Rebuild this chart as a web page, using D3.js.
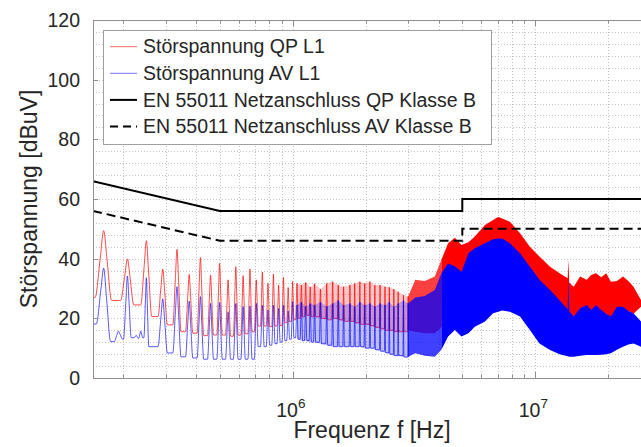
<!DOCTYPE html>
<html>
<head>
<meta charset="utf-8">
<script src="https://cdn.jsdelivr.net/npm/d3@7"></script>
<style>
  body { margin: 0; background: #fff; }
  text { font-family: "Liberation Sans", Arial, Helvetica, sans-serif; fill: #262626; }
</style>
</head>
<body>
<script>
//------------------------------------------- Data ------------------------------------------------------------------//
// limit lines EN 55011 class B (Hz / dBuV)
var limF = [1.5e5, 5e5, 5e6, 5e6, 3e7];
var qpLimit = [66, 56, 56, 60, 60];
var avLimit = [56, 46, 46, 50, 50];

// start level at 150 kHz
var qpStart = 27.0, avStart = 18.1;

// QP L1 : harmonic peaks below 3 MHz (kHz), peak level, level after the peak
var qpPeakF = [166, 208, 249, 291, 333, 374, 416, 458, 499, 541, 582, 624, 666, 707, 749, 790, 832, 874, 915, 957, 998,
  1040, 1085, 1130, 1180, 1230, 1300, 1380, 1460, 1540, 1620, 1720, 1800, 1890, 1980, 2080, 2180, 2290, 2400, 2500, 2610, 2720, 2860, 2990];
var qpPeak = [49.4, 39.9, 46.0, 36.5, 43.1, 34.7, 40.4, 34.5, 38.4, 32.9, 37.3, 34.3, 36.5, 32.9, 35.5, 31.7, 34.8, 31.2, 33.7, 30.3, 32.3,
  31.7, 31.2, 32.0, 30.5, 31.6, 29.8, 31.7, 32.3, 31.2, 30.6, 31.2, 31.7, 32.3, 31.7, 32.3, 31.2, 31.2, 30.6, 30.4, 29.8, 28.9, 27.8, 27.3];
var qpValley = [26.0, 24.5, 20.6, 17.8, 15.5, 15.0, 14.2, 14.4, 14.4, 14.0, 14.4, 14.8, 15.5, 17.4, 17.4, 17.2, 17.4, 17.6, 18.5, 18.9, 19.5,
  20.0, 20.5, 21.0, 20.5, 20.5, 20.0, 19.5, 20.0, 19.5, 19.0, 19.0, 18.5, 18.0, 18.0, 17.5, 17.0, 16.5, 16.0, 16.0, 15.5, 15.5, 15.5, 16.0];

// AV L1 : peaks below 3 MHz (kHz)
var avPeakF = [166, 191, 208, 226, 236, 249, 291, 333, 374, 416, 458, 499, 541, 582, 624, 666, 707, 749, 790, 832, 874, 915, 957, 998,
  1040, 1085, 1130, 1180, 1230, 1300, 1380, 1460, 1540, 1620, 1720, 1800, 1890, 1980, 2080, 2180, 2290, 2400, 2500, 2610, 2720, 2860, 2990];
var avPeak = [36.8, 15.7, 34.2, 14.3, 15.7, 33.6, 26.5, 30.6, 25.8, 27.3, 25.0, 25.3, 22.2, 25.0, 23.9, 24.1, 25.0, 24.4, 22.8, 24.4, 23.3, 24.4, 22.5, 25.6,
  24.5, 25.5, 24.0, 25.0, 24.5, 25.5, 24.0, 25.0, 26.0, 24.5, 25.0, 24.0, 25.5, 24.5, 25.0, 24.0, 25.0, 24.5, 25.5, 24.0, 25.0, 26.0, 25.0];
var avValley = [12.2, 13.0, 13.5, 13.3, 13.5, 10.5, 8.4, 7.1, 6.7, 6.3, 6.3, 6.3, 6.3, 6.3, 6.3, 6.3, 10.5, 10.5, 11.0, 11.5, 12.0, 12.5, 13.0, 13.5,
  13.0, 12.5, 12.5, 12.0, 12.0, 11.5, 11.0, 10.5, 10.5, 10.5, 10.5, 10.5, 10.5, 10.0, 10.0, 9.5, 9.0, 8.5, 8.0, 7.5, 7.5, 7.0, 7.0];

// above 3 MHz the traces are so dense they form a band: upper / lower envelope (MHz)
var hfF = [2.99, 3.2, 3.5, 3.85, 4.1, 4.37, 4.66, 4.96, 5.3, 5.63, 6.2, 6.7, 7.03, 7.3, 7.86, 8.65, 9.5, 10.4, 11.5, 12.6,
  13.6, 13.7, 13.8, 14.4, 15.3, 16.3, 17.0, 17.8, 18.7, 19.6, 20.5, 21.7, 23.0, 24.2, 25.4, 27.3, 30];
var qpHi = [27.3, 32.9, 32.5, 34.0, 39.6, 45.2, 47.0, 44.6, 45.5, 47.4, 51.3, 53.0, 54.0, 53.5, 52.4, 48.5, 44.0, 40.7, 37.3, 35.1,
  33.4, 39.6, 32.0, 30.6, 34.0, 32.9, 34.5, 35.1, 33.8, 35.1, 32.3, 32.5, 34.0, 32.5, 30.6, 26.1, 25.0];
var qpLo = [16.0, 15.5, 15.0, 15.0, 17.0, 22.0, 25.0, 22.0, 25.0, 27.0, 30.0, 32.0, 33.0, 33.0, 32.0, 30.0, 27.0, 24.0, 21.0, 19.0,
  17.8, 17.8, 17.8, 19.0, 22.5, 24.0, 22.0, 23.5, 22.0, 21.5, 20.0, 22.5, 23.0, 22.5, 21.5, 23.9, 22.0];
var avHi = [25.0, 27.0, 27.5, 29.5, 35.1, 38.4, 37.5, 35.6, 41.8, 43.5, 45.2, 46.5, 46.8, 46.8, 45.2, 41.8, 37.3, 32.9, 29.5, 26.1,
  23.0, 34.0, 22.5, 20.6, 23.4, 24.5, 22.8, 24.5, 22.8, 21.5, 20.6, 23.9, 23.9, 22.5, 21.7, 18.9, 17.5];
var avLo = [7.1, 8.3, 7.5, 7.1, 9.5, 13.9, 16.1, 13.9, 15.0, 17.2, 18.9, 21.7, 22.2, 22.6, 22.2, 20.6, 16.1, 11.6, 9.4, 8.0,
  7.3, 7.2, 7.1, 7.1, 7.5, 7.7, 7.7, 7.7, 7.8, 8.0, 8.3, 9.5, 10.5, 11.2, 11.6, 10.5, 9.5];

var yTicks = [0, 20, 40, 60, 80, 100, 120];
var xMajor = [1e6, 1e7];

//------------------------------------------- Setup ---------------------------------------------//
var width = 641, height = 447;
var pLeft = 93, pTop = 20, pRight = 651, pBottom = 378;

var x = d3.scaleLog().domain([1.5e5, 3e7]).range([pLeft, pRight]);
var y = d3.scaleLinear().domain([0, 120]).range([pBottom, pTop]);

var svg = d3.select("body").append("svg")
  .attr("width", width).attr("height", height);

svg.append("clipPath").attr("id", "plot")
  .append("rect").attr("x", pLeft).attr("y", pTop)
  .attr("width", pRight - pLeft).attr("height", pBottom - pTop);

// grid
var grid = svg.append("g").attr("stroke", "#c4c4c4").attr("stroke-dasharray", "1,2").attr("stroke-width", 1);
var xGrid = [];
[1e5, 1e6, 1e7].forEach(function (dec) {
  for (var k = 1; k < 10; k++) {
    var f = dec * k;
    if (f > 1.5e5 && f < 3e7) xGrid.push(f);
  }
});
grid.selectAll(".gx").data(xGrid).enter().append("line")
  .attr("x1", function (d) { return Math.round(x(d)) + 0.5; })
  .attr("x2", function (d) { return Math.round(x(d)) + 0.5; })
  .attr("y1", pTop).attr("y2", pBottom);
grid.selectAll(".gy").data(d3.range(4, 120, 4)).enter().append("line")
  .attr("x1", pLeft).attr("x2", pRight)
  .attr("y1", function (d) { return Math.round(y(d)) + 0.5; })
  .attr("y2", function (d) { return Math.round(y(d)) + 0.5; });

//------------------------------------------- Traces ---------------------------------------------//
// each peak is drawn as a rounded bump about +-13 kHz wide (receiver bandwidth)
function peakPoints(startV, pf, pv, vv) {
  var pts = [[1.5e5, startV]];
  var prev = startV;
  for (var i = 0; i < pf.length; i++) {
    var f = pf[i] * 1e3;
    var gapL = i > 0 ? f - pf[i - 1] * 1e3 : 3e4;
    var gapR = i < pf.length - 1 ? pf[i + 1] * 1e3 - f : 3e4;
    var hw = Math.min(1.3e4, 0.45 * Math.min(gapL, gapR));
    var h = pv[i];
    pts.push([f - hw, prev],
      [f - 0.4 * hw, prev + 0.6 * (h - prev)],
      [f, h],
      [f + 0.4 * hw, vv[i] + 0.6 * (h - vv[i])],
      [f + hw, vv[i]]);
    prev = vv[i];
  }
  return pts;
}

// the dense part (> 1 MHz) of the peak lists, as a faint filled band
function denseBand(pf, pv, vv) {
  var rows = [];
  pf.forEach(function (f, i) { if (f >= 1000) rows.push([f * 1e3, pv[i], vv[i]]); });
  return d3.area()
    .x(function (d) { return x(d[0]); })
    .y1(function (d) { return y(d[1]); })
    .y0(function (d) { return y(d[2]); })(rows);
}

var line = d3.line()
  .x(function (d) { return x(d[0]); })
  .y(function (d) { return y(d[1]); })
  .curve(d3.curveMonotoneX);

var band = function (hi, lo, test) {
  return d3.area()
    .defined(function (d, i) { return test(hfF[i]); })
    .x(function (d, i) { return x(hfF[i] * 1e6); })
    .y1(function (d, i) { return y(hi[i]); })
    .y0(function (d, i) { return y(lo[i]); })(hfF);
};
var sparse = function (f) { return f <= 4.1; };
var solid = function (f) { return f >= 4.1; };

var traces = svg.append("g").attr("clip-path", "url(#plot)");

// QP L1
traces.append("path").attr("d", denseBand(qpPeakF, qpPeak, qpValley))
  .attr("fill", "#ff0000").attr("fill-opacity", 0.22);
traces.append("path")
  .attr("d", line(peakPoints(qpStart, qpPeakF, qpPeak, qpValley)))
  .attr("fill", "none").attr("stroke", "#ff0000").attr("stroke-opacity", 0.7).attr("stroke-width", 1);
traces.append("path").attr("d", band(qpHi, qpLo, sparse))
  .attr("fill", "#ff0000").attr("fill-opacity", 0.75);
traces.append("path").attr("d", band(qpHi, qpLo, solid))
  .attr("fill", "#ff0000");

// AV L1
traces.append("path").attr("d", denseBand(avPeakF, avPeak, avValley))
  .attr("fill", "#0000ff").attr("fill-opacity", 0.25);
traces.append("path")
  .attr("d", line(peakPoints(avStart, avPeakF, avPeak, avValley)))
  .attr("fill", "none").attr("stroke", "#0000ff").attr("stroke-opacity", 0.65).attr("stroke-width", 1);
traces.append("path").attr("d", band(avHi, avLo, sparse))
  .attr("fill", "#0000ff").attr("fill-opacity", 0.75);
traces.append("path").attr("d", band(avHi, avLo, solid))
  .attr("fill", "#0000ff");

// limits
var limLine = d3.line()
  .x(function (d, i) { return x(limF[i]); })
  .y(function (d) { return y(d); });
traces.append("path").attr("d", limLine(qpLimit))
  .attr("fill", "none").attr("stroke", "#000").attr("stroke-width", 2);
traces.append("path").attr("d", limLine(avLimit))
  .attr("fill", "none").attr("stroke", "#000").attr("stroke-width", 2).attr("stroke-dasharray", "9,5");

//------------------------------------------- Axes ---------------------------------------------//
var axisColor = "#8f8f8f";
var ax = svg.append("g").attr("stroke", axisColor).attr("stroke-width", 1);
ax.append("line").attr("x1", pLeft + 0.5).attr("x2", pLeft + 0.5).attr("y1", pTop).attr("y2", pBottom + 0.5);
ax.append("line").attr("x1", pLeft).attr("x2", pRight).attr("y1", pBottom + 0.5).attr("y2", pBottom + 0.5);
ax.append("line").attr("x1", pLeft).attr("x2", pRight).attr("y1", pTop + 0.5).attr("y2", pTop + 0.5);

// x ticks (inside, bottom and top)
xGrid.forEach(function (f) {
  var len = xMajor.indexOf(f) >= 0 ? 6 : 3.5;
  var px = Math.round(x(f)) + 0.5;
  ax.append("line").attr("x1", px).attr("x2", px).attr("y1", pBottom).attr("y2", pBottom - len);
  ax.append("line").attr("x1", px).attr("x2", px).attr("y1", pTop).attr("y2", pTop + len);
});
// y ticks
yTicks.forEach(function (v) {
  var py = Math.round(y(v)) + 0.5;
  ax.append("line").attr("x1", pLeft).attr("x2", pLeft + 5).attr("y1", py).attr("y2", py);
});

svg.append("g").selectAll("text").data(yTicks).enter().append("text")
  .attr("x", 80).attr("y", function (d) { return y(d); })
  .attr("dy", "0.36em").attr("text-anchor", "end")
  .style("font-size", "19.5px")
  .text(function (d) { return d; });

var xl = svg.append("g").selectAll("text").data(xMajor).enter().append("text")
  .attr("x", function (d) { return x(d) - 2; }).attr("y", 416.5)
  .attr("text-anchor", "middle").style("font-size", "19.5px");
xl.append("tspan").text("10");
xl.append("tspan").attr("dy", -8.5).style("font-size", "13.5px")
  .text(function (d) { return Math.round(Math.log10(d)); });

svg.append("text")
  .attr("transform", "translate(37," + (pTop + pBottom) / 2 + ") rotate(-90)")
  .attr("text-anchor", "middle").style("font-size", "23px")
  .text("Störspannung [dBuV]");

svg.append("text")
  .attr("x", (pLeft + pRight) / 2).attr("y", 438)
  .attr("text-anchor", "middle").style("font-size", "23px")
  .text("Frequenz f [Hz]");

//------------------------------------------- Legend ---------------------------------------------//
var legendItems = [
  { label: "Störspannung QP L1", color: "#ff0000", opacity: 0.6, width: 1, dash: null },
  { label: "Störspannung AV L1", color: "#0000ff", opacity: 0.55, width: 1, dash: null },
  { label: "EN 55011 Netzanschluss QP Klasse B", color: "#000", opacity: 1, width: 2, dash: null },
  { label: "EN 55011 Netzanschluss AV Klasse B", color: "#000", opacity: 1, width: 2, dash: "8,5" }
];
var lg = svg.append("g");
lg.append("rect").attr("x", 103.5).attr("y", 30.5).attr("width", 388).attr("height", 114)
  .attr("fill", "#fff").attr("stroke", "#a0a0a0").attr("stroke-width", 1);
var row = lg.selectAll(".row").data(legendItems).enter().append("g")
  .attr("transform", function (d, i) { return "translate(0," + (46.7 + i * 26.6) + ")"; });
row.append("line").attr("x1", 110).attr("x2", 137)
  .attr("stroke", function (d) { return d.color; })
  .attr("stroke-opacity", function (d) { return d.opacity; })
  .attr("stroke-width", function (d) { return d.width; })
  .attr("stroke-dasharray", function (d) { return d.dash; });
row.append("text").attr("x", 143).attr("y", 6.6)
  .style("font-size", "19.5px")
  .text(function (d) { return d.label; });
</script>
</body>
</html>
